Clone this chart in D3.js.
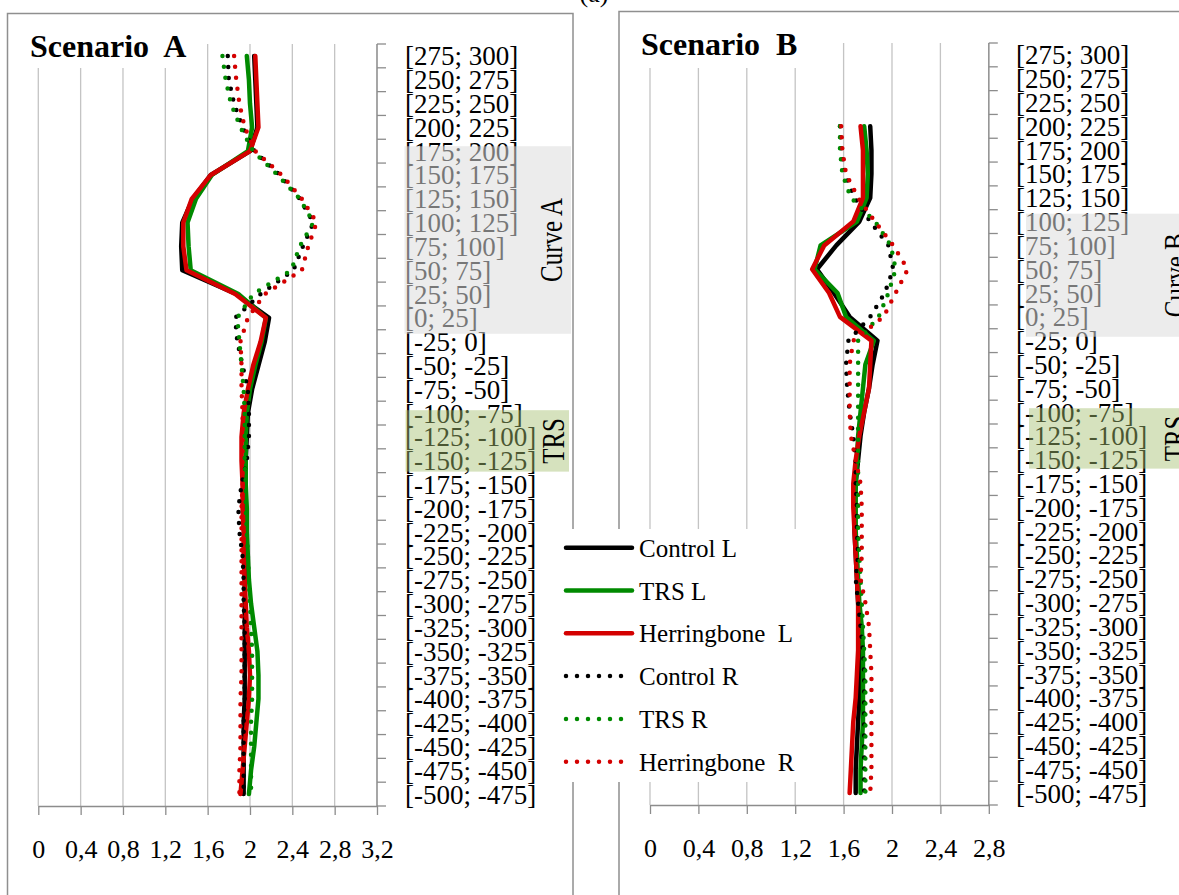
<!DOCTYPE html>
<html>
<head>
<meta charset="utf-8">
<script src="https://cdn.jsdelivr.net/npm/d3@7"></script>
<style>
    html, body { margin: 0; padding: 0; background: #fff; }
    svg { display: block; font-family: "Liberation Serif", "Times New Roman", serif; }
</style>
</head>
<body>
<div id="chart"></div>
<script>
// Categories (distance classes), top to bottom
const categories = ['[275; 300]', '[250; 275]', '[225; 250]', '[200; 225]', '[175; 200]', '[150; 175]',
    '[125; 150]', '[100; 125]', '[75; 100]', '[50; 75]', '[25; 50]', '[0; 25]', '[-25; 0]', '[-50; -25]',
    '[-75; -50]', '[-100; -75]', '[-125; -100]', '[-150; -125]', '[-175; -150]', '[-200; -175]',
    '[-225; -200]', '[-250; -225]', '[-275; -250]', '[-300; -275]', '[-325; -300]', '[-350; -325]',
    '[-375; -350]', '[-400; -375]', '[-425; -400]', '[-450; -425]', '[-475; -450]', '[-500; -475]'];

const seriesNames = ['Control L', 'TRS L', 'Herringbone L', 'Control R', 'TRS R', 'Herringbone R'];
const legendLabels = ['Control L', 'TRS L', 'Herringbone\u00a0 L', 'Control R', 'TRS R', 'Herringbone\u00a0 R'];

const xTicksA = [0, 0.4, 0.8, 1.2, 1.6, 2, 2.4, 2.8, 3.2];
const xTickLabelsA = ['0', '0,4', '0,8', '1,2', '1,6', '2', '2,4', '2,8', '3,2'];
const xTicksB = [0, 0.4, 0.8, 1.2, 1.6, 2, 2.4, 2.8];
const xTickLabelsB = ['0', '0,4', '0,8', '1,2', '1,6', '2', '2,4', '2,8'];

// Scenario A
const controlL_A = [2.04, 2.05, 2.06, 2.07, 2.00, 1.63, 1.46, 1.36, 1.35, 1.36, 1.87, 2.18, 2.14, 2.08, 2.02, 1.98,
    1.97, 1.96, 1.96, 1.95, 1.95, 1.95, 1.95, 1.95, 1.95, 1.95, 1.95, 1.95, 1.94, 1.94, 1.94, 1.94];
const trsL_A = [1.97, 1.99, 2.00, 2.02, 1.98, 1.64, 1.49, 1.41, 1.42, 1.44, 1.89, 2.15, 2.11, 2.05, 2.00, 1.97,
    1.96, 1.96, 1.96, 1.97, 1.97, 1.98, 1.99, 2.01, 2.04, 2.07, 2.08, 2.08, 2.06, 2.04, 2.01, 1.99];
const herrL_A = [2.05, 2.06, 2.07, 2.08, 2.00, 1.63, 1.45, 1.37, 1.37, 1.40, 1.86, 2.15, 2.10, 2.03, 1.98, 1.94,
    1.92, 1.92, 1.93, 1.93, 1.94, 1.94, 1.95, 1.96, 1.97, 1.99, 2.00, 1.99, 1.97, 1.95, 1.93, 1.91];
const controlR_A = [1.79, 1.80, 1.85, 1.93, 2.04, 2.28, 2.47, 2.60, 2.50, 2.41, 2.10, 1.86, 1.88, 1.93, 1.98, 1.99,
    1.99, 1.97, 1.92, 1.89, 1.90, 1.93, 1.94, 1.94, 1.95, 1.95, 1.95, 1.95, 1.94, 1.94, 1.94, 1.94];
const trsR_A = [1.74, 1.77, 1.82, 1.91, 2.03, 2.26, 2.47, 2.60, 2.47, 2.39, 2.03, 1.88, 1.90, 1.92, 1.94, 1.95,
    1.95, 1.95, 1.96, 1.96, 1.97, 1.98, 1.99, 2.00, 2.01, 2.02, 2.02, 2.02, 2.01, 2.01, 2.01, 2.01];
const herrR_A = [1.85, 1.87, 1.90, 1.95, 2.05, 2.30, 2.49, 2.63, 2.55, 2.49, 2.14, 1.98, 1.91, 1.92, 1.92, 1.93,
    1.93, 1.93, 1.93, 1.92, 1.92, 1.92, 1.92, 1.92, 1.92, 1.92, 1.92, 1.91, 1.91, 1.91, 1.90, 1.90];

// Scenario B (no values above [200; 225])
const controlL_B = [null, null, null, 1.82, 1.83, 1.83, 1.82, 1.73, 1.54, 1.38, 1.52, 1.65, 1.88, 1.84, 1.81, 1.77,
    1.74, 1.72, 1.70, 1.69, 1.69, 1.70, 1.71, 1.72, 1.73, 1.73, 1.73, 1.73, 1.72, 1.71, 1.70, 1.70];
const trsL_B = [null, null, null, 1.77, 1.79, 1.80, 1.79, 1.71, 1.41, 1.36, 1.55, 1.62, 1.85, 1.78, 1.76, 1.74,
    1.72, 1.71, 1.70, 1.70, 1.70, 1.71, 1.72, 1.73, 1.75, 1.76, 1.76, 1.76, 1.76, 1.75, 1.74, 1.74];
const herrL_B = [null, null, null, 1.74, 1.76, 1.76, 1.76, 1.68, 1.44, 1.34, 1.48, 1.57, 1.83, 1.82, 1.81, 1.77,
    1.73, 1.70, 1.68, 1.68, 1.69, 1.70, 1.71, 1.72, 1.72, 1.72, 1.71, 1.70, 1.68, 1.67, 1.66, 1.65];
const controlR_B = [null, null, null, 1.57, 1.58, 1.61, 1.69, 1.82, 1.97, 2.01, 1.94, 1.82, 1.64, 1.62, 1.63, 1.65,
    1.68, 1.70, 1.70, 1.71, 1.71, 1.72, 1.70, 1.72, 1.74, 1.76, 1.77, 1.77, 1.77, 1.77, 1.77, 1.77];
const trsR_B = [null, null, null, 1.57, 1.57, 1.59, 1.66, 1.86, 1.99, 2.03, 1.97, 1.89, 1.72, 1.72, 1.72, 1.72,
    1.72, 1.72, 1.72, 1.72, 1.72, 1.73, 1.74, 1.75, 1.76, 1.77, 1.78, 1.78, 1.78, 1.78, 1.78, 1.78];
const herrR_B = [null, null, null, 1.58, 1.59, 1.62, 1.72, 1.86, 2.01, 2.13, 2.03, 1.93, 1.68, 1.65, 1.65, 1.65,
    1.66, 1.70, 1.74, 1.75, 1.75, 1.75, 1.74, 1.78, 1.81, 1.82, 1.83, 1.83, 1.83, 1.83, 1.83, 1.82];

// styles, one per series
const seriesStyle = [
    {color: '#000000', dotted: false},
    {color: '#008a00', dotted: false},
    {color: '#d40000', dotted: false},
    {color: '#000000', dotted: true},
    {color: '#008a00', dotted: true},
    {color: '#d40000', dotted: true}
];

const width = 1179, height = 895;
const gridColor = '#c4c4c4', axisColor = '#8c8c8c';

const svg = d3.select('#chart').append('svg')
    .attr('width', width)
    .attr('height', height)
    .style('background', '#fff');

function drawPanel(p) {
    const x = d3.scaleLinear().domain([0, p.xMax]).range([p.left, p.right]);
    const y = d3.scaleBand().domain(categories).range([p.top, p.bottom]).padding(0);
    const yc = c => y(c) + y.bandwidth() / 2;

    const g = svg.append('g').attr('class', 'panel');

    // outer frame
    g.append('rect')
        .attr('x', p.frame.x).attr('y', p.frame.y)
        .attr('width', p.frame.w).attr('height', p.frame.h)
        .attr('fill', 'none').attr('stroke', '#8f8f8f').attr('stroke-width', 1.5);

    // vertical gridlines
    g.append('g').selectAll('line').data(p.xTicks).enter().append('line')
        .attr('x1', d => x(d)).attr('x2', d => x(d))
        .attr('y1', p.top).attr('y2', p.bottom)
        .attr('stroke', gridColor).attr('stroke-width', 1.3);

    // x axis (values)
    const xAxis = d3.axisBottom(x)
        .tickValues(p.xTicks)
        .tickSize(9)
        .tickSizeOuter(0)
        .tickPadding(25)
        .tickFormat((d, i) => p.xTickLabels[i]);
    const xg = g.append('g')
        .attr('transform', 'translate(0,' + p.bottom + ')')
        .call(xAxis);
    xg.attr('font-family', null).attr('font-size', null);
    xg.select('.domain').attr('stroke', axisColor).attr('stroke-width', 1.3);
    xg.selectAll('.tick line').attr('stroke', axisColor).attr('stroke-width', 1.3);
    xg.selectAll('.tick text').attr('fill', '#000').style('font-size', '26px');

    // category axis on the right side
    const yTicks = categories.map(c => y(c)).concat([p.bottom]);
    g.append('line')
        .attr('x1', p.right).attr('x2', p.right)
        .attr('y1', p.top).attr('y2', p.bottom)
        .attr('stroke', axisColor).attr('stroke-width', 1.3);
    g.append('g').selectAll('line').data(yTicks).enter().append('line')
        .attr('x1', p.right).attr('x2', p.right + 9)
        .attr('y1', d => d).attr('y2', d => d)
        .attr('stroke', axisColor).attr('stroke-width', 1.3);

    // category labels
    g.append('g').selectAll('text').data(categories).enter().append('text')
        .attr('x', p.labelX)
        .attr('y', d => yc(d) + 9.5)
        .style('font-size', '27px')
        .attr('fill', '#000')
        .text(d => d);

    // series, values paired with their category
    p.series.forEach((values, s) => {
        const st = seriesStyle[s];
        const lineGen = d3.line()
            .defined(d => d.v !== null)
            .x(d => x(d.v))
            .y(d => yc(d.c));
        g.append('path')
            .datum(values.map((v, i) => ({c: categories[i], v: v})))
            .attr('class', 'series')
            .attr('data-name', seriesNames[s])
            .attr('fill', 'none')
            .attr('stroke', st.color)
            .attr('stroke-width', 4.5)
            .attr('stroke-linejoin', 'round')
            .attr('stroke-linecap', 'round')
            .attr('stroke-dasharray', st.dotted ? '0 11' : null)
            .attr('d', lineGen);
    });

    // shaded zones laid over the labels
    p.bands.forEach(b => {
        const y0 = y(b.from) + b.padTop;
        const y1 = y(b.to) + y.bandwidth() + b.padBottom;
        g.append('rect')
            .attr('x', b.x0).attr('y', y0)
            .attr('width', b.x1 - b.x0).attr('height', y1 - y0)
            .attr('fill', b.fill).attr('fill-opacity', b.opacity);
        g.append('text')
            .attr('transform', 'translate(' + b.textX + ',' + ((y0 + y1) / 2) + ') scale(1.3,1) rotate(-90)')
            .attr('text-anchor', 'middle')
            .style('font-size', '25px')
            .attr('fill', '#000')
            .text(b.text);
    });

    // title with its white box
    g.append('rect')
        .attr('x', p.titleBox.x).attr('y', p.titleBox.y)
        .attr('width', p.titleBox.w).attr('height', p.titleBox.h)
        .attr('fill', '#fff');
    g.append('text')
        .attr('x', p.titleX).attr('y', p.titleY)
        .style('font-size', '32px')
        .style('font-weight', 'bold')
        .attr('fill', '#000')
        .text(p.title);
}

const grayZone = {fill: 'rgb(220,220,220)', opacity: 0.54};
const greenZone = {fill: 'rgb(165,190,110)', opacity: 0.45};

drawPanel({
    title: 'Scenario\u00a0 A', titleX: 30, titleY: 57,
    titleBox: {x: 24, y: 20, w: 168, h: 48},
    frame: {x: 7.5, y: 13.5, w: 565.5, h: 1000},
    left: 38.3, right: 377, top: 44, bottom: 806,
    xMax: 3.2, xTicks: xTicksA, xTickLabels: xTickLabelsA,
    labelX: 405,
    series: [controlL_A, trsL_A, herrL_A, controlR_A, trsR_A, herrR_A],
    bands: [
        Object.assign({from: '[175; 200]', to: '[0; 25]', padTop: 7, padBottom: 4, x0: 404.5, x1: 571,
            text: 'Curve A', textX: 562}, grayZone),
        Object.assign({from: '[-100; -75]', to: '[-150; -125]', padTop: 9, padBottom: -1, x0: 405.5, x1: 569,
            text: 'TRS', textX: 564}, greenZone)
    ]
});

drawPanel({
    title: 'Scenario\u00a0 B', titleX: 641, titleY: 55,
    titleBox: {x: 634, y: 20, w: 186, h: 48},
    frame: {x: 619, y: 11.5, w: 700, h: 1000},
    left: 650, right: 988.8, top: 43, bottom: 805,
    xMax: 2.8, xTicks: xTicksB, xTickLabels: xTickLabelsB,
    labelX: 1016,
    series: [controlL_B, trsL_B, herrL_B, controlR_B, trsR_B, herrR_B],
    bands: [
        Object.assign({from: '[100; 125]', to: '[0; 25]', padTop: 4, padBottom: 8, x0: 1026, x1: 1200,
            text: 'Curve B', textX: 1186}, grayZone),
        Object.assign({from: '[-100; -75]', to: '[-150; -125]', padTop: 8, padBottom: -3, x0: 1029, x1: 1200,
            text: 'TRS', textX: 1186}, greenZone)
    ]
});

// figure tag, cut at the top edge
svg.append('text')
    .attr('x', 594).attr('y', 2)
    .attr('text-anchor', 'middle')
    .style('font-size', '26px')
    .text('(a)');

// legend sits between the two panels on a white box
const legend = svg.append('g').attr('class', 'legend');
legend.append('rect')
    .attr('x', 556).attr('y', 529)
    .attr('width', 244).attr('height', 253)
    .attr('fill', '#fff');
const legendY = d3.scalePoint().domain(seriesNames).range([547.7, 761.7]);
seriesNames.forEach((name, s) => {
    const st = seriesStyle[s];
    const yy = legendY(name);
    legend.append('line')
        .attr('x1', 566).attr('x2', st.dotted ? 622 : 632)
        .attr('y1', yy).attr('y2', yy)
        .attr('stroke', st.color)
        .attr('stroke-width', 4.5)
        .attr('stroke-linecap', 'round')
        .attr('stroke-dasharray', st.dotted ? '0 11' : null);
    legend.append('text')
        .attr('x', 639).attr('y', yy + 9)
        .style('font-size', '25px')
        .attr('fill', '#000')
        .text(legendLabels[s]);
});
</script>
</body>
</html>
